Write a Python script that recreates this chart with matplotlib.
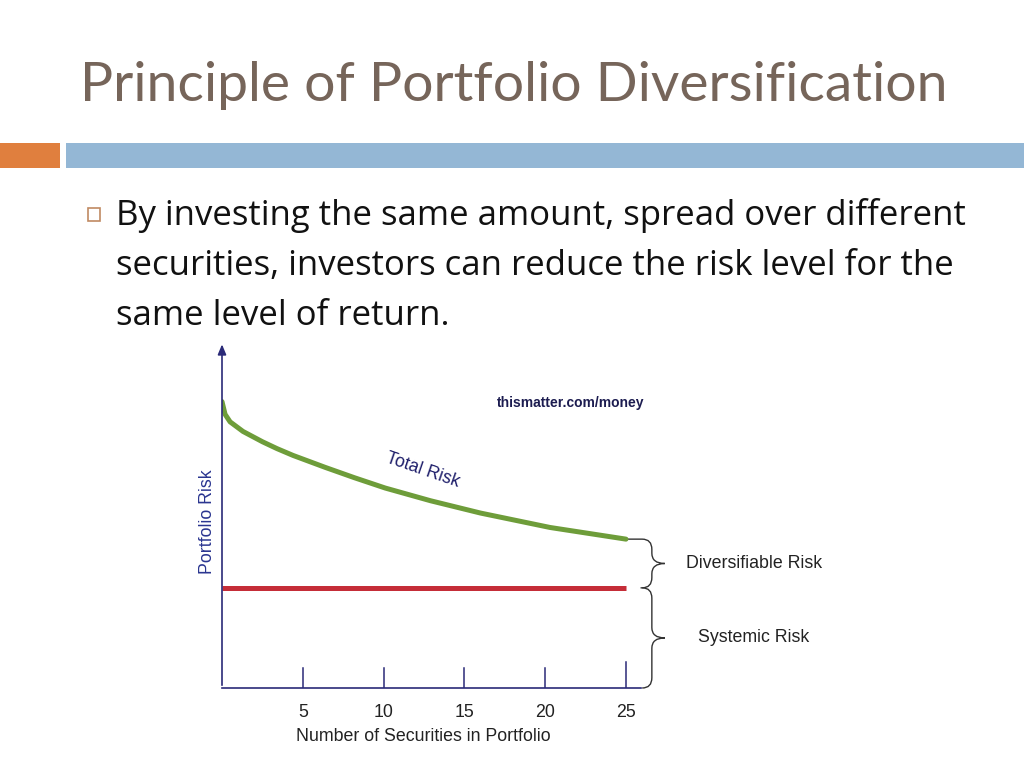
import numpy as np
import matplotlib.pyplot as plt
from matplotlib.patches import Rectangle, PathPatch
from matplotlib.path import Path

# 数据
securities = [0, 0.19, 0.5, 1.3, 2.5, 3.4, 4.4, 6.4, 8.2, 10.1, 12.9, 16.0, 20.3, 25]
total_risk = [83.5, 79.8, 77.6, 74.8, 71.8, 69.8, 67.8, 64.3, 61.3, 58.3, 54.6, 51.0, 46.8, 43.4]
systemic_risk = 29.2
tick_values = [5, 10, 15, 20, 25]

title = "Principle of Portfolio Diversification"
bullet_lines = ["By investing the same amount, spread over different",
                "securities, investors can reduce the risk level for the",
                "same level of return."]

W, H = 1024, 768
fig = plt.figure(figsize=(W / 100, H / 100), dpi=100)

# 幻灯片背景层（像素坐标）
bg = fig.add_axes([0, 0, 1, 1])
bg.set_xlim(0, W)
bg.set_ylim(H, 0)
bg.axis('off')

bg.text(80, 101, title, fontsize=39.8, color='#76655A', family='Lato', va='baseline', ha='left')
bg.add_patch(Rectangle((0, 143), 60, 25, color='#E07F3E', lw=0))
bg.add_patch(Rectangle((66, 143), W - 66, 25, color='#94B7D5', lw=0))
bg.add_patch(Rectangle((87.5, 207.5), 12.5, 13, fill=False, ec='#C08A62', lw=1.2))
for i, line in enumerate(bullet_lines):
    bg.text(116, 225 + i * 50, line, fontsize=25, color='#111111', family='Open Sans',
            va='baseline', ha='left')

# 图表区域
x0px, x1px = 222, 702
top, bot = 345, 688
ppu = 16.16  # 每单位像素
ax = fig.add_axes([x0px / W, 1 - bot / H, (x1px - x0px) / W, (bot - top) / H])
ax.patch.set_alpha(0)
ax.set_xlim(0, (x1px - x0px) / ppu)
ax.set_ylim(0, 100)
ax.axis('off')

axis_col = '#2B2A78'
txt = dict(family='Liberation Sans', fontsize=12.8, clip_on=False)
ax.annotate('', xy=(0, 101), xytext=(0, 0), annotation_clip=False,
            arrowprops=dict(arrowstyle='-|>,head_width=0.25,head_length=0.6', color=axis_col, lw=1.2))
ax.plot([0, 25.9], [0, 0], color=axis_col, lw=1.2, clip_on=False)

for t in tick_values:
    h = 7.5 if t == 25 else 5.8
    ax.plot([t, t], [0, h], color=axis_col, lw=1.1)
    ax.text(t, -7, str(t), ha='center', va='center', color='#222222', **txt)
ax.text(12.44, -14, 'Number of Securities in Portfolio', ha='center', va='center', color='#222222', **txt)
ax.text(-0.87, 48.4, 'Portfolio Risk', rotation=90, ha='center', va='center', color='#2A3590', **txt)

ax.plot(securities, total_risk, color='#6E9D3A', lw=3.6, solid_capstyle='round', solid_joinstyle='round')
ax.plot([0, 25], [systemic_risk, systemic_risk], color='#C52D38', lw=3.6, solid_capstyle='butt')

ax.text(12.44, 63.6, 'Total Risk', rotation=-19, ha='center', va='center', color='#1E1E6A',
        rotation_mode='anchor', **txt)
ax.text(21.6, 83.1, 'thismatter.com/money', ha='center', va='center', fontsize=10, fontweight='bold',
        family='Liberation Sans', color='#1C1C50')


# 大括号
def brace(y_top, y_bot, xs=25.0, xm=26.6, xt=27.4):
    ym = (y_top + y_bot) / 2
    r = 3.0
    verts = [(xs, y_top), (xm - 0.6, y_top),
             (xm, y_top), (xm, y_top - r),
             (xm, ym + r),
             (xm, ym), (xt, ym),
             (xm, ym), (xm, ym - r),
             (xm, y_bot + r),
             (xm, y_bot), (xm - 0.6, y_bot)]
    codes = [Path.MOVETO, Path.LINETO,
             Path.CURVE3, Path.CURVE3,
             Path.LINETO,
             Path.CURVE3, Path.CURVE3,
             Path.CURVE3, Path.CURVE3,
             Path.LINETO,
             Path.CURVE3, Path.CURVE3]
    ax.add_patch(PathPatch(Path(verts, codes), fill=False, ec='#333333', lw=1.0, clip_on=False))
    return ym


ym1 = brace(total_risk[-1], systemic_risk)
ym2 = brace(systemic_risk, 0, xs=25.9)
ax.text(28.7, ym1, 'Diversifiable Risk', ha='left', va='center', color='#222222', **txt)
ax.text(29.45, ym2, 'Systemic Risk', ha='left', va='center', color='#222222', **txt)

fig.savefig('out.png', dpi=100)
